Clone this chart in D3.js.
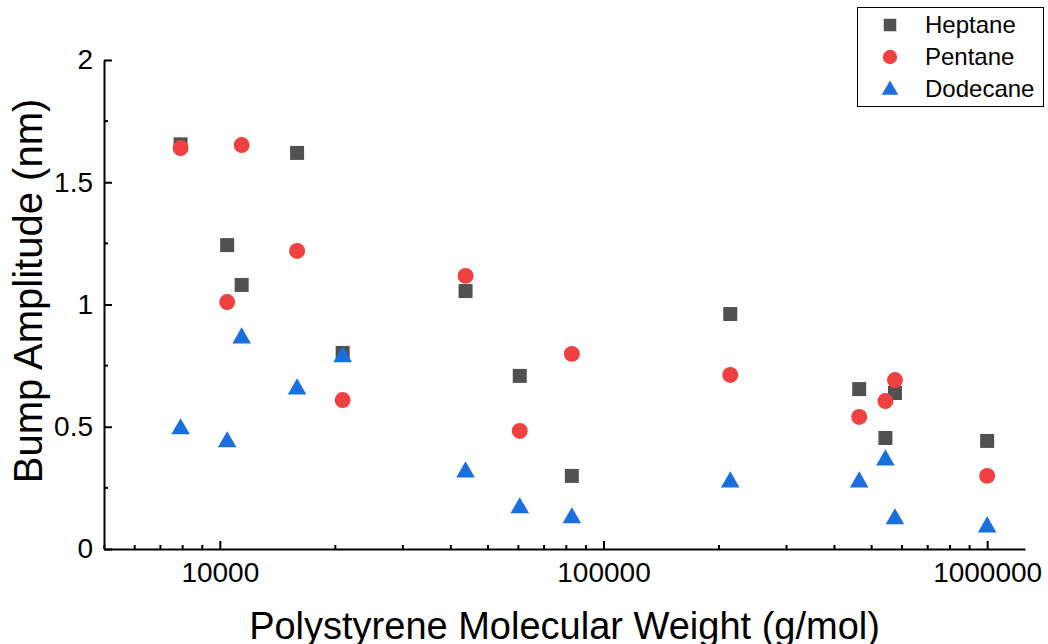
<!DOCTYPE html>
<html>
<head>
<meta charset="utf-8">
<script src="https://cdn.jsdelivr.net/npm/d3@7"></script>
<style>
  html, body { margin: 0; padding: 0; background: #fff; }
  svg { display: block; }
  text { font-family: Arial, "Liberation Sans", sans-serif; fill: #000; }
</style>
</head>
<body>
<svg id="chart" width="1048" height="644"></svg>
<script>
// ---- data ----
const molecularWeight = [7900, 10450, 11400, 15900, 20900, 43700, 60500, 82700, 214000, 464000, 543000, 575000, 1000000];
const heptane  = [1.655, 1.243, 1.080, 1.620, 0.802, 1.055, 0.708, 0.299, 0.961, 0.654, 0.454, 0.638, 0.442];
const pentane  = [1.640, 1.010, 1.652, 1.219, 0.609, 1.117, 0.483, 0.798, 0.712, 0.540, 0.605, 0.691, 0.299];
const dodecane = [0.495, 0.442, 0.867, 0.658, 0.790, 0.319, 0.172, 0.131, 0.278, 0.278, 0.368, 0.127, 0.094];
const seriesNames = ["Heptane", "Pentane", "Dodecane"];
const xTickValues = [10000, 100000, 1000000];
const yTickValues = [0, 0.5, 1, 1.5, 2];
const xTitle = "Polystyrene Molecular Weight (g/mol)";
const yTitle = "Bump Amplitude (nm)";

// ---- layout ----
const svg = d3.select("#chart");
const mLeft = 104, mRight = 1025, mTop = 60, mBottom = 549;

const x = d3.scaleLog().domain([4990, 1255000]).range([mLeft, mRight]);
const y = d3.scaleLinear().domain([0, 2]).range([mBottom, mTop]);

const colors = ["#515151", "#F14040", "#1A6FDF"];
const symbols = [d3.symbolSquare, d3.symbolCircle, d3.symbolTriangle];
const sizes = [196, 200, 150];

// minor ticks
const xMinor = [];
for (let e = 3; e <= 6; e++) {
  for (let m = 2; m <= 9; m++) {
    const v = m * Math.pow(10, e);
    if (v >= x.domain()[0] && v <= x.domain()[1]) xMinor.push(v);
  }
}
const yMinor = [0.25, 0.75, 1.25, 1.75];

// x axis
const gx = svg.append("g").attr("transform", `translate(0,${mBottom})`);
gx.call(d3.axisBottom(x).tickValues(xTickValues).tickFormat(d3.format("d")).tickSize(-8).tickSizeOuter(0).tickPadding(14));
gx.select(".domain").attr("stroke", "#000").attr("stroke-width", 2);
gx.selectAll(".tick line").attr("stroke", "#000").attr("stroke-width", 2);
gx.selectAll(".tick text").attr("font-size", 28).attr("font-family", "Arial, 'Liberation Sans', sans-serif").attr("dy", "0.75em").attr("y", 12);
gx.selectAll(".minor").data(xMinor).enter().append("line")
  .attr("x1", d => x(d)).attr("x2", d => x(d)).attr("y1", 0).attr("y2", -4)
  .attr("stroke", "#000").attr("stroke-width", 2);

// y axis
const gy = svg.append("g").attr("transform", `translate(${mLeft},0)`);
gy.call(d3.axisLeft(y).tickValues(yTickValues).tickFormat(d => String(d)).tickSize(-8).tickSizeOuter(0).tickPadding(11));
gy.select(".domain").attr("stroke", "#000").attr("stroke-width", 2);
gy.selectAll(".tick line").attr("stroke", "#000").attr("stroke-width", 2);
gy.selectAll(".tick text").attr("font-size", 28).attr("font-family", "Arial, 'Liberation Sans', sans-serif").attr("x", -11);
gy.selectAll(".minor").data(yMinor).enter().append("line")
  .attr("x1", 0).attr("x2", 4).attr("y1", d => y(d)).attr("y2", d => y(d))
  .attr("stroke", "#000").attr("stroke-width", 2);

// titles
svg.append("text").attr("x", (mLeft + mRight) / 2).attr("y", 639)
  .attr("text-anchor", "middle").attr("font-size", 38).text(xTitle);
svg.append("text").attr("transform", `translate(42,291) rotate(-90)`)
  .attr("text-anchor", "middle").attr("font-size", 40).text(yTitle);

// points
const allSeries = [heptane, pentane, dodecane];
allSeries.forEach((vals, i) => {
  svg.append("g").selectAll("path").data(vals).enter().append("path")
    .attr("d", d3.symbol().type(symbols[i]).size(sizes[i]))
    .attr("transform", (d, j) => `translate(${x(molecularWeight[j])},${y(d) + (i === 2 ? 1 : 0)})`)
    .attr("fill", colors[i]);
});

// legend
const lg = svg.append("g");
lg.append("rect").attr("x", 857.5).attr("y", 7.5).attr("width", 186).attr("height", 99)
  .attr("fill", "#fff").attr("stroke", "#000").attr("stroke-width", 1);
seriesNames.forEach((name, i) => {
  const cy = 25 + i * 32;
  lg.append("path").attr("d", d3.symbol().type(symbols[i]).size(sizes[i] * 0.8)())
    .attr("transform", `translate(890,${cy + (i === 2 ? 1 : 0)})`).attr("fill", colors[i]);
  lg.append("text").attr("x", 925).attr("y", cy).attr("dy", "0.35em")
    .attr("font-size", 24).text(name);
});
</script>
</body>
</html>
